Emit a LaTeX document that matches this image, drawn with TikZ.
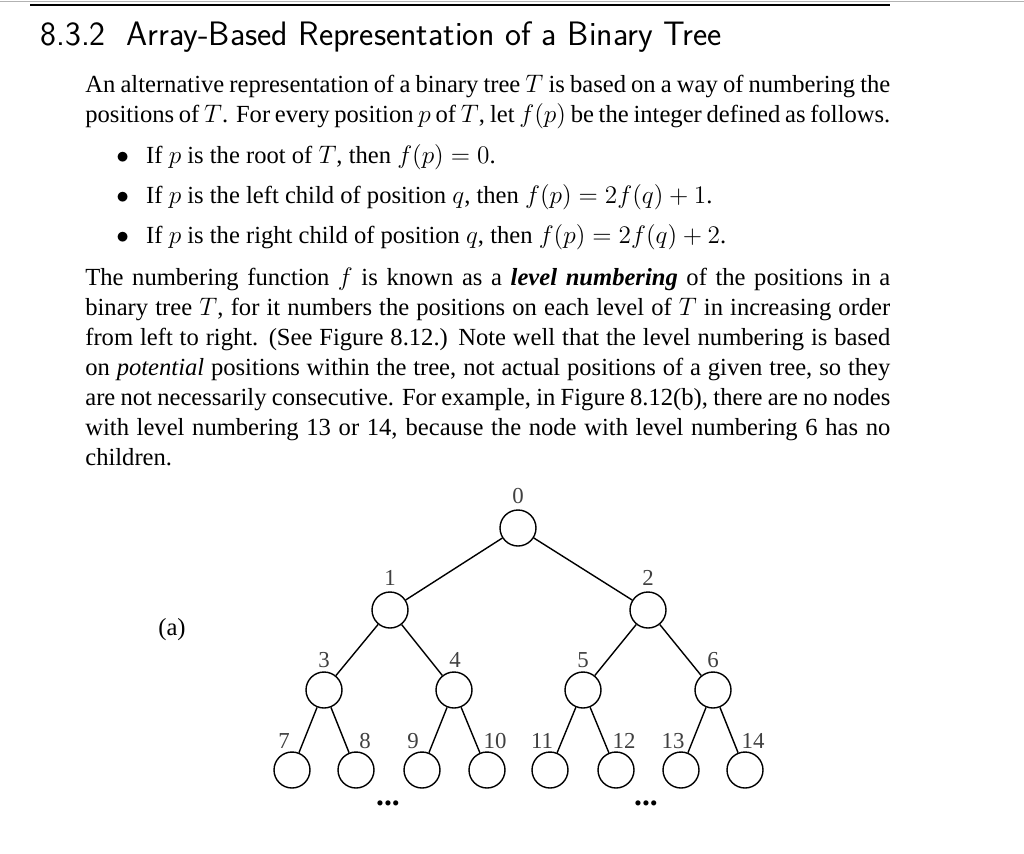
\documentclass[tikz,border=0pt]{standalone}
\usepackage{fontspec}
\setmainfont{Liberation Serif}
\begin{document}
\begin{tikzpicture}[x=0.02cm,y=-0.02cm,
  tn/.style={circle,draw,thick,minimum size=0.72cm,inner sep=0pt},
  lb/.style={font=\fontsize{13}{15}\selectfont,text=black!75},
  ln/.style={anchor=base west,inner sep=0pt,font=\fontsize{14}{17}\selectfont},
  ed/.style={thick}]
\useasboundingbox (0,0) rectangle (1024,853);
\draw[black!30] (0,1) -- (1024,1);
\draw[line width=1.2pt] (30,5) -- (890,5);
\node[anchor=base west,inner sep=0pt,font=\sffamily\fontsize{19.3}{22}\selectfont] (h) at (40,45) {8.3.2\hspace{0.6em}Array-Based Representation of a Binary Tree};
\node[ln] (l1) at (85,92) {\hbox to 805\dimexpr0.02cm\relax{An alternative representation of a binary tree $T$ is based on a way of numbering the}};
\node[ln] (l2) at (85,122) {\hbox to 805\dimexpr0.02cm\relax{positions of $T$. For every position $p$ of $T$, let $f(p)$ be the integer defined as follows.}};
\node[ln] (b1) at (116,163) {$\bullet$\hspace{0.7em}If $p$ is the root of $T$, then $f(p)=0$.};
\node[ln] (b2) at (116,203) {$\bullet$\hspace{0.7em}If $p$ is the left child of position $q$, then $f(p)=2f(q)+1$.};
\node[ln] (b3) at (116,243) {$\bullet$\hspace{0.7em}If $p$ is the right child of position $q$, then $f(p)=2f(q)+2$.};
\node[ln] (m1) at (85,285) {\hbox to 805\dimexpr0.02cm\relax{The numbering function $f$ is known as a \textbf{\textit{level numbering}} of the positions in a}};
\node[ln] (m2) at (85,315) {\hbox to 805\dimexpr0.02cm\relax{binary tree $T$, for it numbers the positions on each level of $T$ in increasing order}};
\node[ln] (m3) at (85,345) {\hbox to 805\dimexpr0.02cm\relax{from left to right. (See Figure 8.12.) Note well that the level numbering is based}};
\node[ln] (m4) at (85,375) {\hbox to 805\dimexpr0.02cm\relax{on \textit{potential} positions within the tree, not actual positions of a given tree, so they}};
\node[ln] (m5) at (85,405) {\hbox to 805\dimexpr0.02cm\relax{are not necessarily consecutive. For example, in Figure 8.12(b), there are no nodes}};
\node[ln] (m6) at (85,435) {\hbox to 805\dimexpr0.02cm\relax{with level numbering 13 or 14, because the node with level numbering 6 has no}};
\node[ln] (m7) at (85,465) {children.};
\node[font=\fontsize{14}{16}\selectfont] (a) at (172,630) {(a)};
\foreach \n/\x/\y/\lx/\ly in {0/518/528/518/496, 1/390/610/390/578, 2/648/610/648/578,
  3/324/690/324/660, 4/454/690/455/660, 5/583/690/583/660, 6/713/690/713/660,
  7/292/770/284/741, 8/356/770/365/741, 9/422/770/413/741, 10/487/770/495/741,
  11/550/770/542/741, 12/616/770/624/741, 13/681/770/673/741, 14/745/770/753/741}{
  \node[tn] (n\n) at (\x,\y) {};
  \node[lb] (t\n) at (\lx,\ly) {\n};
}
\foreach \p/\c in {0/1,0/2,1/3,1/4,2/5,2/6,3/7,3/8,4/9,4/10,5/11,5/12,6/13,6/14}
  \draw[ed] (n\p) -- (n\c);
\node[font=\bfseries\fontsize{18}{20}\selectfont] (d1) at (388,803) {...};
\node[font=\bfseries\fontsize{18}{20}\selectfont] (d2) at (646,803) {...};
\end{tikzpicture}
\end{document}
